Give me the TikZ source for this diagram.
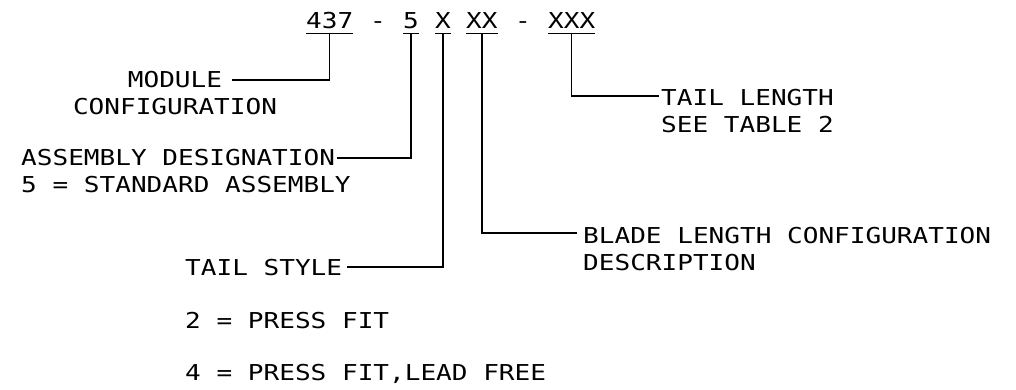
\documentclass[tikz,border=0pt]{standalone}
\usepackage{fontspec}
\newfontfamily\cadfont{DejaVu Sans Mono}[FakeStretch=1.19]
\begin{document}
\begin{tikzpicture}[x=1pt,y=-1pt,
  txt/.style={font=\cadfont\fontsize{21.9}{24}\selectfont, inner sep=0pt, anchor=base west},
  ctxt/.style={txt, anchor=base},
  conn/.style={line width=1.3pt}]
\useasboundingbox (0,0) rectangle (1016,390);
% top code
\node[txt] (n437) at (306,29) {437};
\node[txt] (d1) at (370,29) {-};
\node[txt] (n5) at (403,29) {5};
\node[txt] (nX) at (435,29) {X};
\node[txt] (nXX) at (466,29) {XX};
\node[txt] (d2) at (515,29) {-};
\node[txt] (nXXX) at (548,29) {XXX};
\foreach \n in {n437,n5,nX,nXX,nXXX}{
  \draw[conn] ([yshift=-4pt]\n.south west) -- ([yshift=-4pt]\n.south east);
}
% labels
\node[ctxt] (module) at (175,88) {MODULE};
\node[ctxt] (config) at (175,115) {CONFIGURATION};
\node[txt] (assy) at (21,166) {ASSEMBLY DESIGNATION};
\node[txt] (assy2) at (21,193) {5 = STANDARD ASSEMBLY};
\node[txt] (tstyle) at (185,275) {TAIL STYLE};
\node[txt] (ts2) at (185,328) {2 = PRESS FIT};
\node[txt] (ts4) at (185,380) {4 = PRESS FIT,LEAD FREE};
\node[txt] (blade) at (583,243) {BLADE LENGTH CONFIGURATION};
\node[txt] (desc) at (583,270) {DESCRIPTION};
\node[txt] (tlen) at (661,106) {TAIL LENGTH};
\node[txt] (tab) at (661,133) {SEE TABLE 2};
% connectors
\draw[conn] ([yshift=-4pt]n437.south) |- ([xshift=10pt]module.east);
\draw[conn] ([yshift=-4pt]n5.south) |- ([xshift=2pt]assy.east);
\draw[conn] ([yshift=-4pt]nX.south) |- ([xshift=5pt]tstyle.east);
\draw[conn] ([yshift=-4pt]nXX.south) |- ([xshift=-6pt,yshift=2pt]blade.west);
\draw[conn] ([yshift=-4pt]nXXX.south) |- ([xshift=-2pt,yshift=2pt]tlen.west);
\end{tikzpicture}
\end{document}
